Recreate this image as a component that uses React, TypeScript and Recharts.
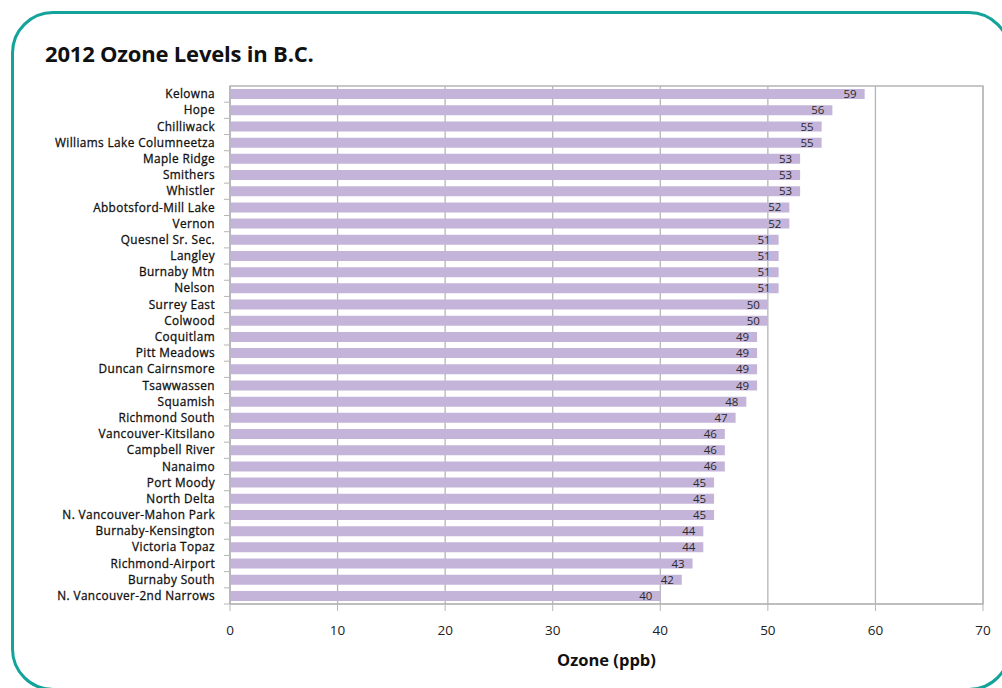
import { Bar, BarChart, CartesianGrid, Label, LabelList, ReferenceArea, XAxis, YAxis } from "recharts";

const stations = [
  "Kelowna",
  "Hope",
  "Chilliwack",
  "Williams Lake Columneetza",
  "Maple Ridge",
  "Smithers",
  "Whistler",
  "Abbotsford-Mill Lake",
  "Vernon",
  "Quesnel Sr. Sec.",
  "Langley",
  "Burnaby Mtn",
  "Nelson",
  "Surrey East",
  "Colwood",
  "Coquitlam",
  "Pitt Meadows",
  "Duncan Cairnsmore",
  "Tsawwassen",
  "Squamish",
  "Richmond South",
  "Vancouver-Kitsilano",
  "Campbell River",
  "Nanaimo",
  "Port Moody",
  "North Delta",
  "N. Vancouver-Mahon Park",
  "Burnaby-Kensington",
  "Victoria Topaz",
  "Richmond-Airport",
  "Burnaby South",
  "N. Vancouver-2nd Narrows"
];

const ozone = [59, 56, 55, 55, 53, 53, 53, 52, 52, 51, 51, 51, 51, 50, 50, 49, 49, 49, 49, 48, 47, 46, 46, 46, 45, 45, 45, 44, 44, 43, 42, 40];

const xTicks = [0, 10, 20, 30, 40, 50, 60, 70];

const data = stations.map((name, i) => ({ name, value: ozone[i] }));

const FONT = "'Open Sans', 'Noto Sans', sans-serif";
const GRID = "#b5b5b5";
const PLOT_TOP = 86;
const PLOT_BOTTOM = 604;
const band = (PLOT_BOTTOM - PLOT_TOP) / stations.length;

// station name plus Excel-style tick mark on the boundary between rows
function StationTick(props: any) {
  const { x, y, payload } = props;
  return (
    <g>
      <line x1={x + 2} x2={x + 7} y1={y + band / 2} y2={y + band / 2} stroke={GRID} />
      <text
        x={x - 7}
        y={y}
        dy="0.35em"
        textAnchor="end"
        fontSize={11.8}
        fill="#111"
        stroke="#111"
        strokeWidth={0.3}
        fontFamily={FONT}
        letterSpacing={0.4}
      >
        {payload.value}
      </text>
    </g>
  );
}

export default function App() {
  return (
    <div style={{ position: "fixed", left: 0, top: 0, width: 1002, height: 688, background: "#fff", overflow: "hidden" }}>
      <div
        style={{
          position: "absolute",
          left: 11,
          top: 11,
          width: 1000,
          height: 680,
          border: "3px solid #14a39a",
          borderRadius: 42,
          boxSizing: "border-box"
        }}
      />
      <div
        style={{
          position: "absolute",
          left: 45,
          top: 38,
          fontFamily: FONT,
          fontWeight: 700,
          fontSize: 22,
          color: "#111",
          letterSpacing: -0.2
        }}
      >
        2012 Ozone Levels in B.C.
      </div>
      <div style={{ position: "absolute", left: 0, top: 0 }}>
        <BarChart
          width={1002}
          height={688}
          data={data}
          layout="vertical"
          barCategoryGap="19%"
          margin={{ top: PLOT_TOP, right: 19, bottom: 688 - PLOT_BOTTOM - 64, left: 0 }}
        >
          <CartesianGrid horizontal={false} stroke={GRID} strokeWidth={1.3} />
          <XAxis
            type="number"
            domain={[0, 70]}
            ticks={xTicks}
            interval={0}
            height={64}
            stroke={GRID}
            tickSize={7}
            tickMargin={14}
            tick={{ fill: "#222", fontSize: 13.5, fontFamily: FONT }}
          >
            <Label
              value="Ozone (ppb)"
              position="insideBottom"
              offset={2}
              style={{ fontFamily: FONT, fontWeight: 700, fontSize: 16.5, fill: "#111" }}
            />
          </XAxis>
          <YAxis
            type="category"
            dataKey="name"
            width={230}
            interval={0}
            stroke={GRID}
            tickLine={false}
            tick={<StationTick />}
          />
          <ReferenceArea x1={0} x2={70} fill="none" stroke={GRID} strokeWidth={1.3} ifOverflow="visible" />
          <Bar dataKey="value" fill="#c4b4da" isAnimationActive={false}>
            <LabelList
              dataKey="value"
              position="insideRight"
              offset={8}
              style={{ fontSize: 11.5, fill: "#2a2a2a", fontFamily: FONT }}
            />
          </Bar>
        </BarChart>
      </div>
    </div>
  );
}
